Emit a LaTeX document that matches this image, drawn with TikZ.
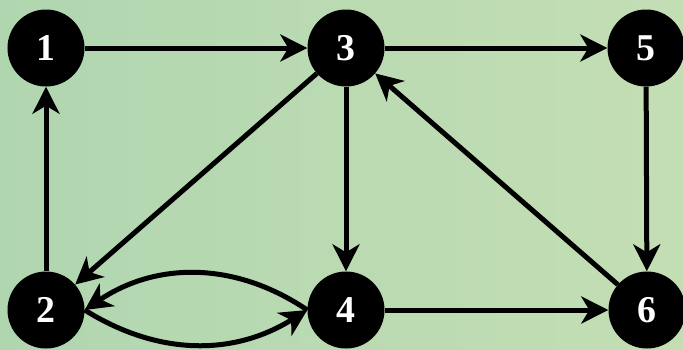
\documentclass[tikz,border=0pt]{standalone}
\usepackage{fontspec}
\setmainfont{Liberation Serif}
\usepackage{xcolor}
\usetikzlibrary{arrows.meta}
\definecolor{bgleft}{RGB}{176,214,176}
\definecolor{bgright}{RGB}{196,222,180}

\begin{document}
\begin{tikzpicture}[x=1bp,y=-1bp,>={Stealth[length=27bp,width=27bp,inset=8bp]},
  vertex/.style={circle,fill=black,inner sep=0pt,minimum size=77bp,text=white,
    font=\fontsize{38}{44}\selectfont\bfseries},
  edge/.style={->,line width=5bp}]
  \useasboundingbox (0,0) rectangle (683,349);
  \shade[left color=bgleft,right color=bgright] (0,0) rectangle (683,349);
  \node[vertex] (n1) at (46,48) {1};
  \node[vertex] (n3) at (346,48) {3};
  \node[vertex] (n5) at (646,48) {5};
  \node[vertex] (n2) at (46,310) {2};
  \node[vertex] (n4) at (346,310) {4};
  \node[vertex] (n6) at (647,310) {6};
  \draw[edge] (n1) -- (n3);
  \draw[edge] (n3) -- (n5);
  \draw[edge] (n2) -- (n1);
  \draw[edge] (n3) -- (n2);
  \draw[edge] (n3) -- (n4);
  \draw[edge] (n5) -- (n6);
  \draw[edge] (n6) -- (n3);
  \draw[edge] (n4) -- (n6);
  \draw[edge] (n4.west) to[bend right=34] (n2.east);
  \draw[edge] (n2.east) to[bend right=32] (n4.west);
\end{tikzpicture}
\end{document}
